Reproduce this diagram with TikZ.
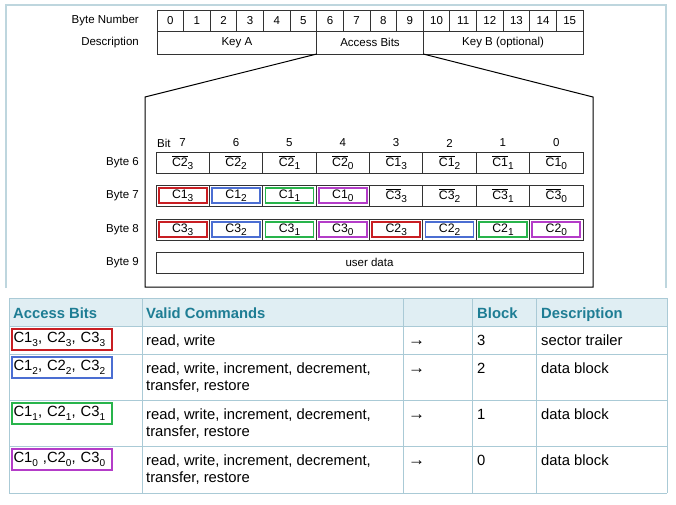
\documentclass[tikz,border=0pt]{standalone}
\usepackage{fontspec}
\setmainfont{Liberation Sans}
\usepackage{xcolor}
\usepackage{graphicx}
\usepackage{tikz}

\definecolor{cred}{RGB}{200,30,35}
\definecolor{cblue}{RGB}{75,110,210}
\definecolor{cgreen}{RGB}{40,180,75}
\definecolor{cpurple}{RGB}{180,60,200}
\definecolor{framegray}{RGB}{190,214,222}
\definecolor{gridblue}{RGB}{170,202,214}
\definecolor{headfill}{RGB}{224,238,243}
\definecolor{headtext}{RGB}{30,125,148}

\newcommand{\smallfont}{\fontsize{11.5}{13}\selectfont}
\newcommand{\bitfont}{\fontsize{12.3}{13}\selectfont}
\newcommand{\tabfont}{\fontsize{14.8}{17}\selectfont}
\newcommand{\subidx}[1]{\raisebox{-0.4ex}{\scalebox{0.82}{#1}}}
\newcommand{\tabidx}[1]{\raisebox{-0.45ex}{\scalebox{0.68}{#1}}}
\newcommand{\cb}[2]{$\overline{\mbox{C#1}}$\subidx{#2}}
\newcommand{\cc}[2]{C#1\subidx{#2}}
\newcommand{\ct}[2]{C#1\tabidx{#2}}

\begin{document}
\begin{tikzpicture}[x=1pt, y=-1pt,
    cell/.style={draw=black!80, line width=0.8pt, inner sep=0pt, outer sep=0pt, font=\smallfont},
    bitcell/.style={cell, minimum width=53.375pt, minimum height=21pt, font=\bitfont},
    lbl/.style={anchor=east, inner sep=0pt, font=\smallfont},
    inbox/.style={draw=#1, line width=1.8pt, minimum width=48pt, minimum height=15.5pt, inner sep=0pt},
    hdr/.style={anchor=base west, inner sep=0pt, font=\tabfont\bfseries, text=headtext},
    txt/.style={anchor=base west, inner sep=0pt, font=\tabfont},
    arrowtxt/.style={anchor=base west, inner sep=0pt, font=\fontsize{17}{17}\selectfont},
    accbox/.style={draw=#1, line width=1.8pt, anchor=west, outer sep=0pt, minimum height=21pt,
      text width=97pt, align=left, inner xsep=1.5pt, inner ysep=0pt, font=\tabfont}]
    \useasboundingbox (0,0) rectangle (676,504);

    % frame round the upper part
    \draw[framegray, line width=1.2pt] (6,288) -- (6,5) -- (666,5) -- (666,288);

    % sector trailer bytes
    \node[lbl] (bytenum) at (139,20.5) {Byte Number};
    \node[lbl] (desc) at (139,42.5) {Description};
    \foreach \i in {0,...,15}
        \node[cell, minimum width=26.625pt, minimum height=21pt] (b\i) at ({157+26.625*(\i+0.5)},20.5) {\i};
    \node[cell, minimum width=159.75pt, minimum height=23pt] (keya) at (236.875,42.5) {Key A};
    \node[cell, minimum width=106.5pt, minimum height=23pt] (acc) at (370,42.5) {Access Bits};
    \node[cell, minimum width=159.75pt, minimum height=23pt] (keyb) at (503.125,42.5) {Key B (optional)};

    % zoom on the access bits
    \coordinate (tl) at (145,97);
    \coordinate (tr) at (593,97);
    \coordinate (bl) at (145,287);
    \coordinate (br) at (593,287);
    \draw[line width=1pt] (acc.south west) -- (tl) -- (bl) -- (br) -- (tr) -- (acc.south east);

    % bit numbers
    \node[anchor=west, inner sep=0pt, font=\smallfont] (bitlbl) at (157,143) {Bit};
    \foreach \b [count=\i from 0] in {7,...,0}
        \node[inner sep=0pt, font=\smallfont] (bit\b) at ({156+53.375*(\i+0.5)},143) {\b};

    % byte 6
    \node[lbl] (lb6) at (139,162.5) {Byte 6};
    \foreach \t [count=\i from 0] in {\cb{2}{3},\cb{2}{2},\cb{2}{1},\cb{2}{0},\cb{1}{3},\cb{1}{2},\cb{1}{1},\cb{1}{0}}
        \node[bitcell] (r6c\i) at ({156+53.375*(\i+0.5)},162.5) {\t};

    % byte 7
    \node[lbl] (lb7) at (139,195.5) {Byte 7};
    \foreach \t [count=\i from 0] in {\cc{1}{3},\cc{1}{2},\cc{1}{1},\cc{1}{0},\cb{3}{3},\cb{3}{2},\cb{3}{1},\cb{3}{0}}
        \node[bitcell] (r7c\i) at ({156+53.375*(\i+0.5)},195.5) {\t};
    \foreach \c [count=\i from 0] in {cred,cblue,cgreen,cpurple}
        \node[inbox=\c] (m7c\i) at (r7c\i) {};

    % byte 8
    \node[lbl] (lb8) at (139,229.5) {Byte 8};
    \foreach \t [count=\i from 0] in {\cc{3}{3},\cc{3}{2},\cc{3}{1},\cc{3}{0},\cc{2}{3},\cc{2}{2},\cc{2}{1},\cc{2}{0}}
        \node[bitcell] (r8c\i) at ({156+53.375*(\i+0.5)},229.5) {\t};
    \foreach \c [count=\i from 0] in {cred,cblue,cgreen,cpurple,cred,cblue,cgreen,cpurple}
        \node[inbox=\c] (m8c\i) at (r8c\i) {};

    % byte 9
    \node[lbl] (lb9) at (139,262.5) {Byte 9};
    \node[cell, minimum width=427pt, minimum height=21pt] (r9) at (369.5,262.5) {user data};

    % table of access conditions
    \fill[headfill] (9,298) rectangle (667,326);
    \foreach \yy in {298,326,354,400,446,493}
        \draw[gridblue, line width=1pt] (9,\yy) -- (667,\yy);
    \foreach \xx in {9,142,403,472,536,667}
        \draw[gridblue, line width=1pt] (\xx,298) -- (\xx,493);

    \node[hdr] (haccess) at (13,318) {Access Bits};
    \node[hdr] (hvalid) at (146,318) {Valid Commands};
    \node[hdr] (hblock) at (477,318) {Block};
    \node[hdr] (hdesc) at (541,318) {Description};

    % block 3
    \node[accbox=cred] (ab3) at (12,339.5) {\ct{1}{3}, \ct{2}{3}, \ct{3}{3}};
    \node[txt] (cmd3) at (146,345) {read, write};
    \node[arrowtxt] (arr3) at (408,345) {→};
    \node[txt] (blk3) at (477,345) {3};
    \node[txt] (dsc3) at (541,345) {sector trailer};

    % block 2
    \node[accbox=cblue] (ab2) at (12,367.5) {\ct{1}{2}, \ct{2}{2}, \ct{3}{2}};
    \node[txt] (cmd2) at (146,373) {read, write, increment, decrement,};
    \node[txt] (cmd2b) at (146,390) {transfer, restore};
    \node[arrowtxt] (arr2) at (408,373) {→};
    \node[txt] (blk2) at (477,373) {2};
    \node[txt] (dsc2) at (541,373) {data block};

    % block 1
    \node[accbox=cgreen] (ab1) at (12,413.5) {\ct{1}{1}, \ct{2}{1}, \ct{3}{1}};
    \node[txt] (cmd1) at (146,419) {read, write, increment, decrement,};
    \node[txt] (cmd1b) at (146,436) {transfer, restore};
    \node[arrowtxt] (arr1) at (408,419) {→};
    \node[txt] (blk1) at (477,419) {1};
    \node[txt] (dsc1) at (541,419) {data block};

    % block 0
    \node[accbox=cpurple] (ab0) at (12,459.5) {\ct{1}{0} ,\ct{2}{0}, \ct{3}{0}};
    \node[txt] (cmd0) at (146,465) {read, write, increment, decrement,};
    \node[txt] (cmd0b) at (146,482) {transfer, restore};
    \node[arrowtxt] (arr0) at (408,465) {→};
    \node[txt] (blk0) at (477,465) {0};
    \node[txt] (dsc0) at (541,465) {data block};
\end{tikzpicture}
\end{document}
